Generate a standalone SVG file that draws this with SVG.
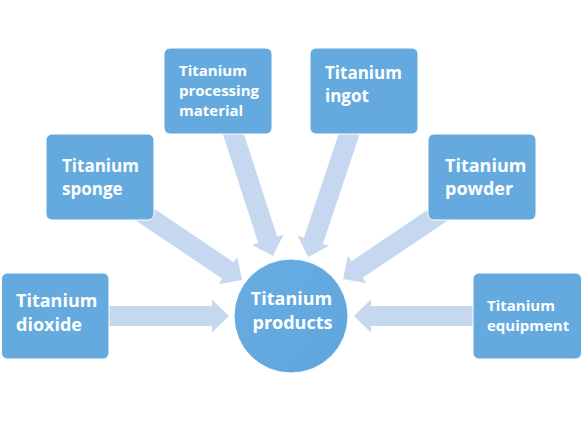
<svg xmlns="http://www.w3.org/2000/svg" width="583" height="421" viewBox="0 0 583 421">
<defs>
<style>
.box{fill:#64aadf;stroke:#ffffff;stroke-width:1}
.arr{fill:#c5d8ef}
.t{font-family:"Open Sans","DejaVu Sans",sans-serif;font-weight:bold;fill:#ffffff}
</style>
<linearGradient id="g" x1="0" y1="0" x2="1" y2="1">
<stop offset="0" stop-color="#68ade2"/>
<stop offset="1" stop-color="#5fa5dc"/>
</linearGradient>
</defs>
<rect width="583" height="421" fill="#ffffff"/>
<g id="connectors" class="arr">
<path d="M108,306 L212,306 L212,299.5 L229,316 L212,332.5 L212,326 L108,326 Z"/>
<path d="M475,306 L371,306 L371,299.5 L354,316 L371,332.5 L371,326 L475,326 Z"/>
<g transform="translate(242,280) rotate(34)"><path d="M-125,-10 L-17,-10 L-17,-16.5 L0,0 L-17,16.5 L-17,10 L-125,10 Z"/></g>
<g transform="translate(343,279) rotate(146)"><path d="M-125,-10 L-17,-10 L-17,-16.5 L0,0 L-17,16.5 L-17,10 L-125,10 Z"/></g>
<g transform="translate(273,256) rotate(72)"><path d="M-132,-10 L-17,-10 L-17,-16.5 L0,0 L-17,16.5 L-17,10 L-132,10 Z"/></g>
<g transform="translate(308,257) rotate(108.5)"><path d="M-132,-10 L-17,-10 L-17,-16.5 L0,0 L-17,16.5 L-17,10 L-132,10 Z"/></g>
</g>
<g id="n-dioxide">
<rect class="box" x="1.5" y="273" width="107.5" height="86" rx="6"/>
<text class="t" font-size="18"><tspan x="16" y="307">Titanium</tspan><tspan x="16" y="331">dioxide</tspan></text>
</g>
<g id="n-sponge">
<rect class="box" x="46" y="134" width="108" height="86" rx="6"/>
<text class="t" font-size="17"><tspan x="62" y="172">Titanium</tspan><tspan x="62" y="194.5">sponge</tspan></text>
</g>
<g id="n-processing">
<rect class="box" x="164" y="48" width="108" height="86" rx="6"/>
<text class="t" font-size="15"><tspan x="179" y="76">Titanium</tspan><tspan x="179" y="96">processing</tspan><tspan x="179" y="116">material</tspan></text>
</g>
<g id="n-ingot">
<rect class="box" x="310" y="48" width="108" height="86" rx="6"/>
<text class="t" font-size="17"><tspan x="325" y="79">Titanium</tspan><tspan x="325" y="102">ingot</tspan></text>
</g>
<g id="n-powder">
<rect class="box" x="428" y="134" width="108" height="86" rx="6"/>
<text class="t" font-size="18"><tspan x="445" y="172">Titanium</tspan><tspan x="445" y="195">powder</tspan></text>
</g>
<g id="n-equipment">
<rect class="box" x="473" y="273" width="108.5" height="86" rx="6"/>
<text class="t" font-size="15"><tspan x="487" y="311">Titanium</tspan><tspan x="487" y="331">equipment</tspan></text>
</g>
<g id="n-products">
<circle cx="291" cy="316" r="57" fill="url(#g)" stroke="#ffffff" stroke-width="1"/>
<text class="t" font-size="18" text-anchor="middle"><tspan x="291.5" y="305">Titanium</tspan><tspan x="292.5" y="328.5">products</tspan></text>
</g>
</svg>
